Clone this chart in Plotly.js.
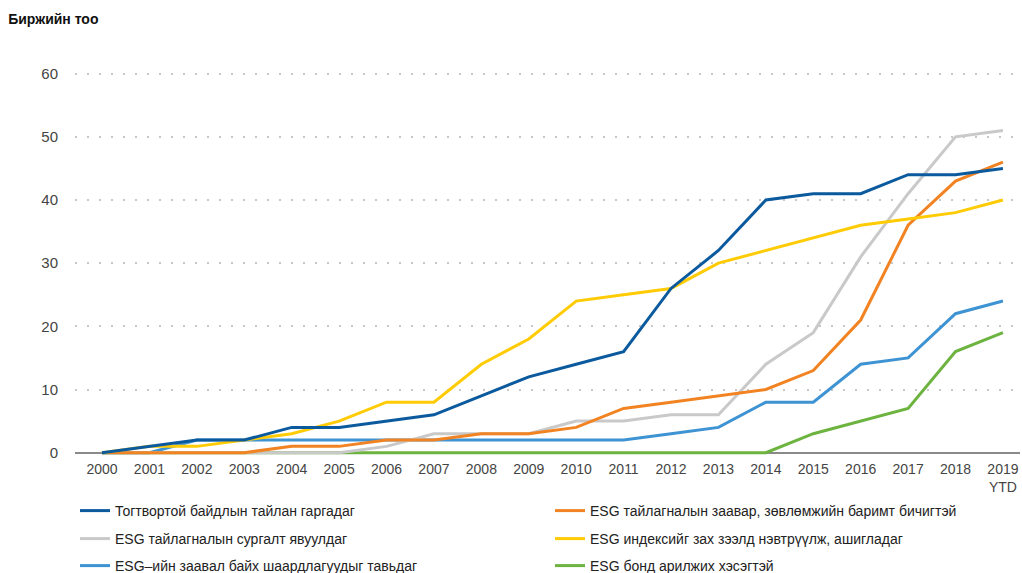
<!DOCTYPE html>
<html>
<head>
<meta charset="utf-8">
<script src="https://cdn.plot.ly/plotly-3.0.1.min.js"></script>
<style>html,body{margin:0;padding:0;background:#fff;}#chart{width:1022px;height:573px;}</style>
</head>
<body>
<div id="chart"></div>
<script>
const years = ["2000","2001","2002","2003","2004","2005","2006","2007","2008","2009","2010","2011","2012","2013","2014","2015","2016","2017","2018","2019"];
const yearLabels = ["2000","2001","2002","2003","2004","2005","2006","2007","2008","2009","2010","2011","2012","2013","2014","2015","2016","2017","2018","2019<br>YTD"];
const sustainabilityReport = [0,1,2,2,4,4,5,6,9,12,14,16,26,32,40,41,41,44,44,45];
const esgGuidance = [0,0,0,0,1,1,2,2,3,3,4,7,8,9,10,13,21,36,43,46];
const esgTraining = [0,0,0,0,0,0,1,3,3,3,5,5,6,6,14,19,31,41,50,51];
const esgIndex = [0,1,1,2,3,5,8,8,14,18,24,25,26,30,32,34,36,37,38,40];
const esgMandatory = [0,0,2,2,2,2,2,2,2,2,2,2,3,4,8,8,14,15,22,24];
const esgBond = [0,0,0,0,0,0,0,0,0,0,0,0,0,0,0,3,5,7,16,19];
const seriesNames = [
  "Тогтвортой байдлын тайлан гаргадаг",
  "ESG тайлагналын заавар, зөвлөмжийн баримт бичигтэй",
  "ESG тайлагналын сургалт явуулдаг",
  "ESG индексийг зах зээлд нэвтрүүлж, ашигладаг",
  "ESG–ийн заавал байх шаардлагуудыг тавьдаг",
  "ESG бонд арилжих хэсэгтэй"
];
const yTicks = [0,10,20,30,40,50,60];

const colors = ["#0b5a9e","#f28322","#c9c9c9","#ffcb05","#3e93d3","#6db33f"];
const values = [sustainabilityReport, esgGuidance, esgTraining, esgIndex, esgMandatory, esgBond];
const legendIds = ["legend","legend2","legend3","legend4","legend5","legend6"];
const drawOrder = [5,4,2,1,3,0];
const traces = values.map((v,i)=>({
  type:"scatter", mode:"lines", x:years, y:v, name:seriesNames[i],
  line:{color:colors[i], width:3}, legend:legendIds[i],
  hoverinfo:"x+y+name"
}));
const ordered = drawOrder.map(i=>traces[i]);

const legendFont = {family:"'Liberation Sans',Arial,sans-serif", size:14, color:"#222"};
// legend slot i: column = i % 2, row = floor(i / 2)
const colX = [75/1022, 550/1022];
const rowY = [1-511/573, 1-539/573, 1-566/573];
function legendAt(i){
  return {orientation:"h", x:colX[i%2], xanchor:"left", xref:"container",
    y:rowY[Math.floor(i/2)], yanchor:"middle", yref:"container",
    font:legendFont, bgcolor:"rgba(0,0,0,0)"};
}

const layout = {
  width:1022, height:573,
  margin:{l:75, r:2, t:61, b:114, autoexpand:false},
  paper_bgcolor:"#fff", plot_bgcolor:"#fff",
  font:{family:"'Liberation Sans',Arial,sans-serif", color:"#444", size:14},
  title:{text:"Биржийн тоо", x:0.008, xanchor:"left", xref:"container", y:0.967, yanchor:"middle", yref:"container",
    font:{family:"'Liberation Sans',Arial,sans-serif", size:14, color:"#111", weight:"bold"}},
  xaxis:{type:"category", range:[-0.57,19.36], tickmode:"array", tickvals:years, ticktext:yearLabels,
    showgrid:false, zeroline:false, showline:false, ticks:"", tickfont:{size:14,color:"#444"}, fixedrange:true},
  yaxis:{range:[-1,62], tickmode:"array", tickvals:yTicks, ticktext:yTicks.map(String),
    showgrid:true, gridcolor:"#c8c8c8", gridwidth:2, griddash:"2px,10px",
    zeroline:true, zerolinecolor:"#8a8a8a", zerolinewidth:2, showline:false, ticks:"",
    ticklabelstandoff:16, tickfont:{size:15,color:"#444"}, fixedrange:true},
  showlegend:true
};
legendIds.forEach((id,i)=>{ layout[id] = legendAt(i); });

Plotly.newPlot("chart", ordered, layout, {displayModeBar:false, staticPlot:true});
</script>
</body>
</html>
